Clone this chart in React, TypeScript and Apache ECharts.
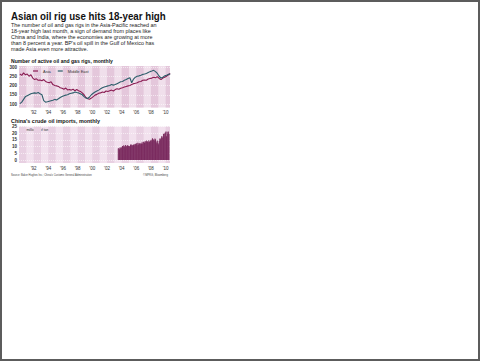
import React, { useEffect, useRef } from "react";
import * as echarts from "echarts";

// Number of active oil and gas rigs, quarterly readings 1990 Q1 .. 2010 Q3
const rigStartYear = 1990;
const asiaRigs = [
  262, 255, 268, 258,
  262, 250, 258, 240,
  232, 236, 228, 230,
  226, 232, 222, 218,
  215, 220, 205, 200,
  198, 195, 188, 185,
  180, 186, 176, 178,
  175, 180, 172, 178,
  172, 168, 160, 150,
  135, 128, 126, 132,
  140, 148, 152, 158,
  160, 165, 162, 170,
  168, 172, 175, 170,
  178, 182, 180, 185,
  188, 192, 195, 198,
  200, 205, 210, 212,
  215, 220, 222, 228,
  230, 228, 235, 238,
  240, 245, 242, 248,
  238, 232, 240, 245,
  250, 258, 265,
];
const middleEastRigs = [
  102, 110, 125, 140,
  145, 150, 155, 158,
  160, 158, 162, 155,
  150, 118, 110, 112,
  115, 118, 120, 125,
  122, 128, 135, 140,
  145, 148, 150, 155,
  158, 160, 165, 162,
  160, 155, 150, 140,
  132, 130, 138, 150,
  158, 165, 170, 175,
  182, 188, 192, 195,
  198, 200, 205, 202,
  205, 210, 215, 220,
  222, 228, 232, 238,
  242, 215, 235, 245,
  250, 252, 255, 260,
  262, 265, 270, 275,
  278, 282, 275, 265,
  250, 240, 245, 252,
  255, 260, 262,
];

// China's crude oil imports, monthly, millions of tonnes, Jul 2003 .. Jun 2010
const chinaStartYear = 2003.5;
const chinaImports = [
  8.5, 9, 8, 9.5, 8.8, 9.2,
  9.8, 10.5, 10, 11, 10.2, 9.6, 11.2, 10, 10.4, 11, 10.8, 10.5,
  10.4, 9.8, 11.5, 10.8, 11.6, 10.8, 11.2, 11.5, 10.8, 11.8, 12.2, 11.3,
  12.5, 11, 12.8, 11.5, 12.6, 12.2, 12.5, 11.8, 12.3, 13.2, 12.2, 13.6,
  13.5, 12.8, 14.2, 13.2, 14.6, 13.5, 14, 13.2, 14.8, 13.5, 14.2, 14.5,
  15.2, 14, 16.2, 15.5, 15.1, 14.5, 16, 15.5, 13.8, 12.5, 14.6, 12.7,
  11.8, 14.2, 16, 15.5, 16.2, 17.8, 16.5, 17.5, 19.5, 17.6, 19.8, 20.5,
  21.2, 17.8, 21, 19.6, 21.3, 19.5,
];

const rigTicks = ["100", "150", "200", "250", "300"];
const importTicks = ["0", "5", "10", "15", "20", "25"];
const yearMin = 1990;
const yearMax = 2010.6;

const title = "Asian oil rig use hits 18-year high";
const bodyLines = [
  "The number of oil and gas rigs in the Asia-Pacific reached an",
  "18-year high last month, a sign of demand from places like",
  "China and India, where the economies are growing at more",
  "than 8 percent a year. BP's oil spill in the Gulf of Mexico has",
  "made Asia even more attractive.",
];
const rigsTitle = "Number of active oil and gas rigs, monthly";
const importsTitle = "China's crude oil imports, monthly";
const unitLabel = "In millions of tonnes";
const sourceText = "Source: Baker Hughes Inc.; China's Customs General Administration";
const creditText = "©MPKG, Bloomberg";

const FONT = '"Liberation Sans", Arial, sans-serif';

function fitScale(text: string, font: string, target: number): number {
  try {
    const c = document.createElement("canvas").getContext("2d");
    if (!c) return 1;
    c.font = font;
    const w = c.measureText(text).width;
    return w > 0 ? target / w : 1;
  } catch (e) {
    return 1;
  }
}

export default function App() {
  const ref = useRef<HTMLDivElement>(null);
  useEffect(() => {
    if (!ref.current) return;
    const chart = echarts.init(ref.current, undefined, { renderer: "svg" });

    const stripes: any[] = [];
    for (let y = yearMin; y < yearMax; y += 2) {
      stripes.push([{ xAxis: y }, { xAxis: Math.min(y + 1, yearMax) }]);
    }
    const L = 19;
    const Wd = 151;
    const xFmt = (v: number) => "'" + String(Math.round(v)).slice(2);

    const bgX = (gi: number) => ({
      type: "value",
      gridIndex: gi,
      min: yearMin,
      max: yearMax,
      interval: 2,
      axisLine: { show: false },
      axisTick: { show: false },
      splitLine: { show: false },
      axisLabel: {
        showMinLabel: false,
        showMaxLabel: false,
        formatter: xFmt,
        fontSize: 4.5,
        color: "#333",
        margin: 2.5,
        fontFamily: FONT,
      },
    });
    const hiddenX = (gi: number) => ({
      type: "value",
      gridIndex: gi,
      min: yearMin,
      max: yearMax,
      show: false,
    });
    const dataY = (gi: number, min: number, max: number, interval: number) => ({
      type: "value",
      gridIndex: gi,
      min,
      max,
      interval,
      z: 1.5,
      axisLine: { show: false },
      axisTick: { show: false },
      axisLabel: { fontSize: 4.5, color: "#333", margin: 2, fontFamily: FONT, fontWeight: "bold" },
      splitLine: { lineStyle: { color: "#ffffff", width: 0.6, type: [1, 1] } },
    });

    const textEl = (
      text: string,
      x: number,
      y: number,
      font: string,
      width: number,
      align = "left",
      fill = "#1a1a1a"
    ) => ({
      type: "text",
      x,
      y,
      scaleX: fitScale(text, font, width),
      silent: true,
      style: { text, font, fill, align, verticalAlign: "middle" },
    });

    const bodyFont = `5.7px ${FONT}`;
    const bodyScale = fitScale(bodyLines[3], bodyFont, 143);

    const graphics: any[] = [
      {
        type: "rect",
        shape: { x: 1, y: 1, width: 478, height: 359 },
        style: { fill: "none", stroke: "#5c5c5c", lineWidth: 2 },
        silent: true,
      },
      textEl(title, 11, 15.3, `bold 11.5px ${FONT}`, 155, "left", "#111"),
      ...bodyLines.map((t, i) => ({
        type: "text",
        x: 11,
        y: 25 + i * 5.95,
        scaleX: bodyScale,
        silent: true,
        style: { text: t, font: bodyFont, fill: "#222", align: "left", verticalAlign: "middle" },
      })),
      textEl(rigsTitle, 11, 60.5, `bold 5.4px ${FONT}`, 102, "left", "#111"),
      textEl(importsTitle, 11, 120.8, `bold 5.4px ${FONT}`, 89, "left", "#111"),
      textEl(unitLabel, 22, 129.8, `4px ${FONT}`, 33, "left", "#333"),
      textEl(sourceText, 11, 174.5, `3.6px ${FONT}`, 81, "left", "#444"),
      textEl(creditText, 168, 174.5, `3.6px ${FONT}`, 25, "right", "#444"),
    ];

    const option: any = {
      animation: false,
      backgroundColor: "#ffffff",
      textStyle: { fontFamily: FONT },
      grid: [
        { left: L, width: Wd, top: 66, height: 41.5, show: true, backgroundColor: "#f0dfeb", borderWidth: 0 },
        { left: L, width: Wd, top: 67, height: 37 },
        { left: L, width: Wd, top: 126.5, height: 36.5, show: true, backgroundColor: "#f2e1ee", borderWidth: 0 },
        { left: L, width: Wd, top: 126.5, height: 33.5 },
      ],
      xAxis: [bgX(0), hiddenX(1), bgX(2), hiddenX(3)],
      yAxis: [
        { type: "value", gridIndex: 0, min: 0, max: 1, show: false },
        dataY(1, Number(rigTicks[0]), Number(rigTicks[rigTicks.length - 1]), 50),
        { type: "value", gridIndex: 2, min: 0, max: 1, show: false },
        dataY(3, Number(importTicks[0]), Number(importTicks[importTicks.length - 1]), 5),
      ],
      legend: {
        show: true,
        left: 33,
        top: 69,
        itemWidth: 5,
        itemHeight: 1.2,
        itemGap: 7,
        icon: "rect",
        data: ["Asia", "Middle East"],
        textStyle: { fontSize: 4, color: "#333", fontFamily: FONT },
        padding: 0,
      },
      graphic: graphics,
      series: [
        {
          type: "line",
          xAxisIndex: 0,
          yAxisIndex: 0,
          data: [[yearMin, -1]],
          symbol: "none",
          silent: true,
          lineStyle: { opacity: 0 },
          markArea: { silent: true, itemStyle: { color: "#e4c7db" }, data: stripes },
        },
        {
          type: "line",
          xAxisIndex: 2,
          yAxisIndex: 2,
          data: [[yearMin, -1]],
          symbol: "none",
          silent: true,
          lineStyle: { opacity: 0 },
          markArea: { silent: true, itemStyle: { color: "#e8d0e2" }, data: stripes },
        },
        {
          name: "Asia",
          type: "line",
          xAxisIndex: 1,
          yAxisIndex: 1,
          symbol: "none",
          color: "#8a1c52",
          lineStyle: { width: 1.1, color: "#8a1c52" },
          data: asiaRigs.map((v, i) => [rigStartYear + i / 4 + 0.125, v]),
        },
        {
          name: "Middle East",
          type: "line",
          xAxisIndex: 1,
          yAxisIndex: 1,
          symbol: "none",
          color: "#2c5d6a",
          lineStyle: { width: 1.1, color: "#2c5d6a" },
          data: middleEastRigs.map((v, i) => [rigStartYear + i / 4 + 0.125, v]),
        },
        {
          name: "Imports",
          type: "bar",
          xAxisIndex: 3,
          yAxisIndex: 3,
          barWidth: 1,
          itemStyle: { color: "#7a2a5e" },
          data: chinaImports.map((v, i) => [chinaStartYear + i / 12 + 1 / 24, v]),
        },
      ],
    };
    chart.setOption(option);
    return () => chart.dispose();
  }, []);

  return (
    <div style={{ position: "fixed", left: 0, top: 0, width: 480, height: 361 }}>
      <div ref={ref} style={{ width: 480, height: 361 }} />
    </div>
  );
}
